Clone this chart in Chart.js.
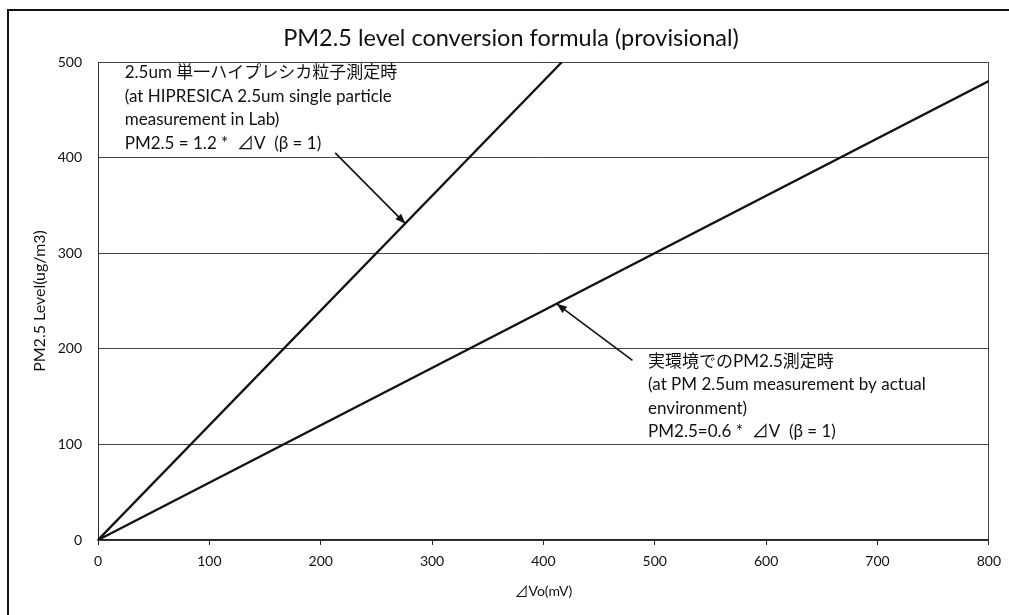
<!DOCTYPE html>
<html>
<head>
<meta charset="utf-8">
<script src="https://cdn.jsdelivr.net/npm/chart.js@4/dist/chart.umd.min.js"></script>
<style>
  html, body { margin: 0; padding: 0; background: #fff; }
  #wrap { width: 1009px; height: 615px; position: relative; }
</style>
</head>
<body>
<div id="wrap"><canvas id="c" width="1009" height="615"></canvas></div>
<script>
// ---- data ----
const chartTitle = 'PM2.5 level conversion formula (provisional)';
const xAxisTitle = '⊿Vo(mV)';
const yAxisTitle = 'PM2.5 Level(ug/m3)';
const xTicks = [0, 100, 200, 300, 400, 500, 600, 700, 800];
const yTicks = [0, 100, 200, 300, 400, 500];
const labX = [0, 416.7];
const labY = [0, 500];
const envX = [0, 800];
const envY = [0, 480];
const labNote = ['2.5um 単一ハイプレシカ粒子測定時', '(at HIPRESICA 2.5um single particle', 'measurement in Lab)', 'PM2.5 = 1.2 *  ⊿V  (β = 1)'];
const envNote = ['実環境でのPM2.5測定時', '(at PM 2.5um measurement by actual', 'environment)', 'PM2.5=0.6 *  ⊿V  (β = 1)'];
// annotation anchors in data units
const labNoteAt = [24, 489];
const envNoteAt = [494, 187];
const labArrow = [[213, 405], [276, 331]];
const envArrow = [[480, 188], [412, 247]];

const FONT = "Lato, 'Noto Sans CJK JP', 'Noto Sans', sans-serif";

const frame = {
  id: 'frame',
  beforeDraw(chart) {
    const ctx = chart.ctx;
    ctx.save();
    ctx.fillStyle = '#fff';
    ctx.fillRect(0, 0, chart.width, chart.height);
    ctx.strokeStyle = '#111';
    ctx.lineWidth = 2;
    ctx.beginPath();
    ctx.moveTo(8, chart.height);
    ctx.lineTo(8, 10);
    ctx.lineTo(chart.width, 10);
    ctx.stroke();
    // chart title
    ctx.fillStyle = '#111';
    ctx.font = '23.5px ' + FONT;
    ctx.textAlign = 'center';
    ctx.textBaseline = 'middle';
    ctx.fillText(chartTitle, 511, 38);
    ctx.restore();
  }
};

function drawArrow(ctx, x1, y1, x2, y2) {
  ctx.beginPath();
  ctx.moveTo(x1, y1);
  ctx.lineTo(x2, y2);
  ctx.stroke();
  const a = Math.atan2(y2 - y1, x2 - x1);
  const L = 10, W = 4;
  ctx.beginPath();
  ctx.moveTo(x2, y2);
  ctx.lineTo(x2 - L * Math.cos(a) + W * Math.sin(a), y2 - L * Math.sin(a) - W * Math.cos(a));
  ctx.lineTo(x2 - L * Math.cos(a) - W * Math.sin(a), y2 - L * Math.sin(a) + W * Math.cos(a));
  ctx.closePath();
  ctx.fill();
}

const notes = {
  id: 'notes',
  afterDatasetsDraw(chart) {
    const ctx = chart.ctx;
    const xs = chart.scales.x, ys = chart.scales.y;
    ctx.save();
    ctx.fillStyle = '#111';
    ctx.font = '17px ' + FONT;
    ctx.textBaseline = 'middle';
    ctx.textAlign = 'left';
    const lh = 23.5;
    [[labNote, labNoteAt], [envNote, envNoteAt]].forEach(([lines, at]) => {
      const px = xs.getPixelForValue(at[0]);
      const py = ys.getPixelForValue(at[1]);
      lines.forEach((t, i) => ctx.fillText(t, px, py + i * lh));
    });
    ctx.strokeStyle = '#111';
    ctx.fillStyle = '#111';
    ctx.lineWidth = 1.6;
    [labArrow, envArrow].forEach(([s, e]) => {
      drawArrow(ctx, xs.getPixelForValue(s[0]), ys.getPixelForValue(s[1]),
                     xs.getPixelForValue(e[0]), ys.getPixelForValue(e[1]));
    });
    ctx.restore();
  }
};

new Chart(document.getElementById('c'), {
  type: 'scatter',
  data: {
    datasets: [
      { data: labX.map((x, i) => ({ x, y: labY[i] })), showLine: true, borderColor: '#111', borderWidth: 2.3, pointRadius: 0 },
      { data: envX.map((x, i) => ({ x, y: envY[i] })), showLine: true, borderColor: '#111', borderWidth: 2.3, pointRadius: 0 }
    ]
  },
  options: {
    responsive: false,
    animation: false,
    devicePixelRatio: 1,
    layout: { padding: { left: 0, right: 20, top: 62, bottom: 0 } },
    plugins: {
      legend: { display: false },
      tooltip: { enabled: false },
      title: { display: false }
    },
    scales: {
      x: {
        type: 'linear',
        min: 0, max: 800,
        afterBuildTicks: s => { s.ticks = xTicks.map(v => ({ value: v })); },
        afterFit: s => { s.height = 75; },
        ticks: { color: '#111', font: { family: FONT, size: 14 }, padding: 8, maxRotation: 0 },
        grid: {
          color: c => (c.tick && c.tick.value === 800) ? '#444' : 'rgba(0,0,0,0)',
          tickColor: '#222', tickLength: 5, lineWidth: 1
        },
        border: { color: '#222', width: 1.5 },
        title: { display: true, text: xAxisTitle, color: '#111', font: { family: FONT, size: 14 }, padding: { top: 0, bottom: 15 } }
      },
      y: {
        type: 'linear',
        min: 0, max: 500,
        afterBuildTicks: s => { s.ticks = yTicks.map(v => ({ value: v })); },
        afterFit: s => { s.width = 98; },
        ticks: { color: '#111', font: { family: FONT, size: 14 }, padding: 16 },
        grid: { color: '#444', lineWidth: 1, drawTicks: false },
        border: { color: '#333', width: 1 },
        title: { display: true, text: yAxisTitle, color: '#111', font: { family: FONT, size: 16 }, padding: { top: 30, bottom: 0 } }
      }
    }
  },
  plugins: [frame, notes]
});
</script>
</body>
</html>
